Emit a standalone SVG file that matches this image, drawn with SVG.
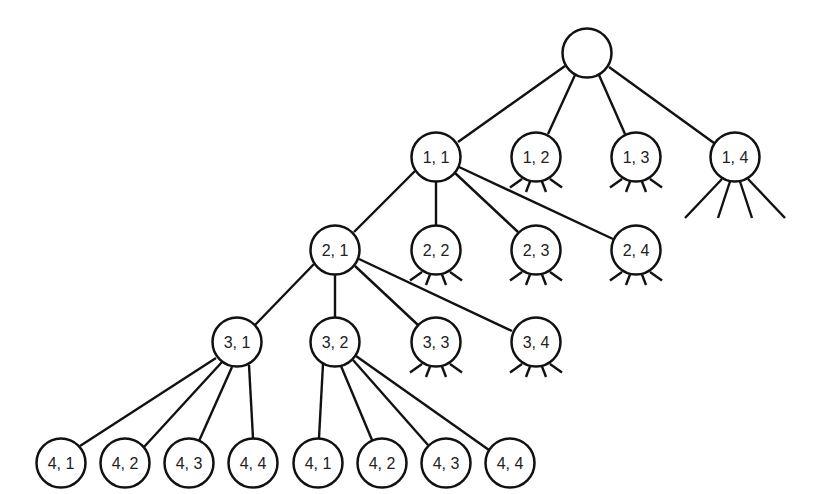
<svg xmlns="http://www.w3.org/2000/svg" xmlns:xlink="http://www.w3.org/1999/xlink" width="820" height="494" viewBox="0 0 820 494">
<style>
.n circle{fill:#fff;stroke:#111;stroke-width:2.5}
.n text{font-family:"Liberation Sans",Arial,sans-serif;font-size:16px;fill:#222;text-anchor:middle}
.e line,.s line{stroke:#111;stroke-width:2.4;stroke-linecap:butt}
</style>
<defs>
<g id="stub" class="s">
<line x1="-14" y1="22" x2="-26" y2="30.5"/>
<line x1="-6" y1="24.5" x2="-10" y2="35"/>
<line x1="6" y1="24.5" x2="10" y2="35"/>
<line x1="14" y1="22" x2="26" y2="30.5"/>
</g>
</defs>
<rect width="820" height="494" fill="#fff"/>
<g id="connectors" class="e">
<line x1="565" y1="66" x2="458" y2="142"/>
<line x1="575" y1="75" x2="548" y2="134"/>
<line x1="599" y1="75" x2="625" y2="134"/>
<line x1="609" y1="67" x2="714" y2="143"/>
<line x1="415" y1="171" x2="354" y2="232"/>
<line x1="436" y1="182" x2="436" y2="226"/>
<line x1="455" y1="173" x2="518" y2="232"/>
<line x1="459" y1="167" x2="613" y2="239"/>
<line x1="314" y1="264" x2="255" y2="325"/>
<line x1="335" y1="275" x2="335" y2="317"/>
<line x1="355" y1="266" x2="418" y2="325"/>
<line x1="359" y1="259" x2="512" y2="331"/>
<line x1="216" y1="358" x2="80" y2="446"/>
<line x1="222" y1="362" x2="144" y2="447"/>
<line x1="232" y1="367" x2="199" y2="441"/>
<line x1="249" y1="365" x2="253" y2="438"/>
<line x1="323" y1="364" x2="319" y2="438"/>
<line x1="341" y1="366" x2="372" y2="440"/>
<line x1="353" y1="360" x2="428" y2="445"/>
<line x1="356" y1="356" x2="489" y2="450"/>
</g>
<g id="root" class="n"><circle cx="587" cy="53" r="24.5"/></g>
<g id="n1_1" class="n"><circle cx="436" cy="157" r="24.5"/><text x="436" y="163">1, 1</text></g>
<g id="n1_2" class="n"><use xlink:href="#stub" x="536" y="157"/><circle cx="536" cy="157" r="24.5"/><text x="536" y="163">1, 2</text></g>
<g id="n1_3" class="n"><use xlink:href="#stub" x="636" y="157"/><circle cx="636" cy="157" r="24.5"/><text x="636" y="163">1, 3</text></g>
<g id="n1_4" class="n">
<g class="s">
<line x1="722" y1="179" x2="685" y2="218"/>
<line x1="730" y1="181.5" x2="718" y2="218"/>
<line x1="740" y1="181.5" x2="752" y2="218"/>
<line x1="748" y1="179" x2="785" y2="218"/>
</g>
<circle cx="735" cy="157" r="24.5"/><text x="735" y="163">1, 4</text></g>
<g id="n2_1" class="n"><circle cx="335" cy="250" r="24.5"/><text x="335" y="256">2, 1</text></g>
<g id="n2_2" class="n"><use xlink:href="#stub" x="436" y="250"/><circle cx="436" cy="250" r="24.5"/><text x="436" y="256">2, 2</text></g>
<g id="n2_3" class="n"><use xlink:href="#stub" x="536" y="250"/><circle cx="536" cy="250" r="24.5"/><text x="536" y="256">2, 3</text></g>
<g id="n2_4" class="n"><use xlink:href="#stub" x="636" y="250"/><circle cx="636" cy="250" r="24.5"/><text x="636" y="256">2, 4</text></g>
<g id="n3_1" class="n"><circle cx="237" cy="342" r="24.5"/><text x="237" y="348">3, 1</text></g>
<g id="n3_2" class="n"><circle cx="335" cy="342" r="24.5"/><text x="335" y="348">3, 2</text></g>
<g id="n3_3" class="n"><use xlink:href="#stub" x="436" y="342"/><circle cx="436" cy="342" r="24.5"/><text x="436" y="348">3, 3</text></g>
<g id="n3_4" class="n"><use xlink:href="#stub" x="536" y="342"/><circle cx="536" cy="342" r="24.5"/><text x="536" y="348">3, 4</text></g>
<g id="n4_1a" class="n"><circle cx="61" cy="463" r="24.5"/><text x="61" y="469">4, 1</text></g>
<g id="n4_2a" class="n"><circle cx="125" cy="463" r="24.5"/><text x="125" y="469">4, 2</text></g>
<g id="n4_3a" class="n"><circle cx="189" cy="463" r="24.5"/><text x="189" y="469">4, 3</text></g>
<g id="n4_4a" class="n"><circle cx="253" cy="463" r="24.5"/><text x="253" y="469">4, 4</text></g>
<g id="n4_1b" class="n"><circle cx="318" cy="463" r="24.5"/><text x="318" y="469">4, 1</text></g>
<g id="n4_2b" class="n"><circle cx="382" cy="463" r="24.5"/><text x="382" y="469">4, 2</text></g>
<g id="n4_3b" class="n"><circle cx="446" cy="463" r="24.5"/><text x="446" y="469">4, 3</text></g>
<g id="n4_4b" class="n"><circle cx="510" cy="463" r="24.5"/><text x="510" y="469">4, 4</text></g>
</svg>
